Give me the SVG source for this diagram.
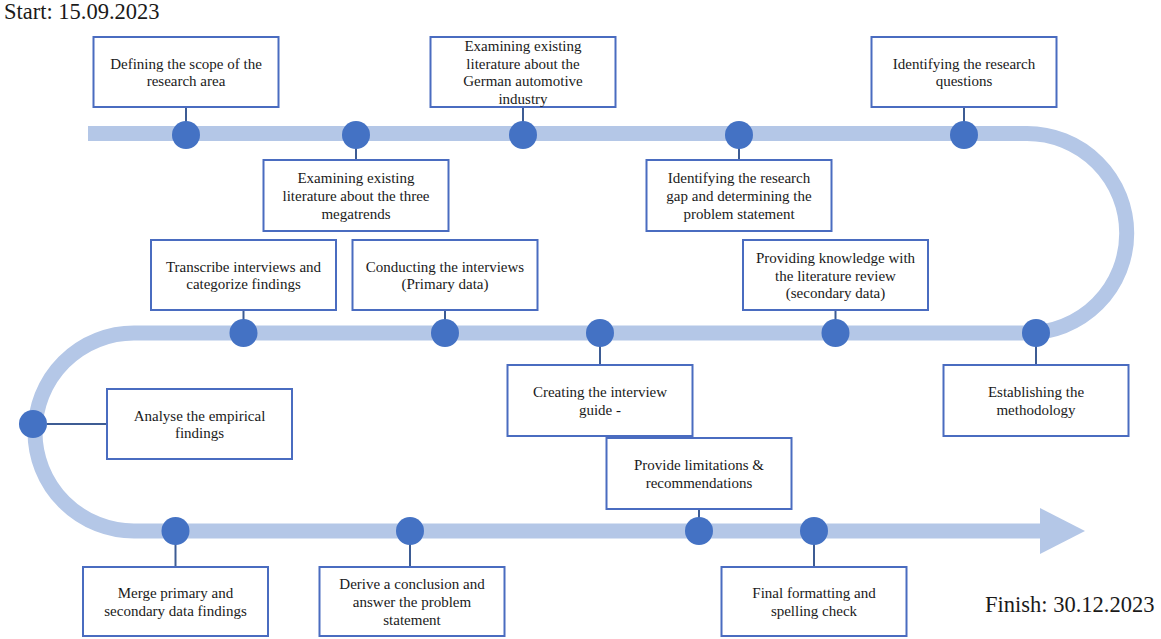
<svg xmlns="http://www.w3.org/2000/svg" width="1161" height="639" viewBox="0 0 1161 639">
<style>
.band{fill:none;stroke:#B4C7E7;stroke-width:15}
.dot{fill:#4472C4}
.box{fill:#fff;stroke:#4A6CC0;stroke-width:2}
.lk{stroke:#3D5C94;stroke-width:2;fill:none}
text,tspan{font-family:"Liberation Serif","Times New Roman",serif;fill:#1a1a1a}
.t{font-size:15px;text-anchor:middle}
.big{font-size:22.5px}
</style>
<rect width="1161" height="639" fill="#fff"/>
<text class="big" x="4" y="19">Start: 15.09.2023</text>
<text class="big" x="985" y="612">Finish: 30.12.2023</text>
<g id="track">
<path class="band" d="M88,133.5 H1027 A99.75,99.75 0 0 1 1027,333 H134 A99,99 0 0 0 134,531 H1041"/>
<polygon points="1040,508 1085,531 1040,554" fill="#B4C7E7"/>
</g>
<g id="connectors">
<line class="lk" x1="186" y1="107" x2="186" y2="122"/>
<line class="lk" x1="356" y1="148" x2="356" y2="160"/>
<line class="lk" x1="523" y1="107" x2="523" y2="122"/>
<line class="lk" x1="739" y1="148" x2="739" y2="160"/>
<line class="lk" x1="964" y1="107" x2="964" y2="122"/>
<line class="lk" x1="243.5" y1="310" x2="243.5" y2="320"/>
<line class="lk" x1="445" y1="310" x2="445" y2="320"/>
<line class="lk" x1="600" y1="346" x2="600" y2="365"/>
<line class="lk" x1="835.5" y1="310" x2="835.5" y2="320"/>
<line class="lk" x1="1036" y1="346" x2="1036" y2="365"/>
<line class="lk" x1="47" y1="424" x2="107" y2="424"/>
<line class="lk" x1="699" y1="509" x2="699" y2="518"/>
<line class="lk" x1="175.5" y1="544" x2="175.5" y2="567"/>
<line class="lk" x1="410" y1="544" x2="410" y2="567"/>
<line class="lk" x1="814" y1="544" x2="814" y2="567"/>
</g>
<g id="dots">
<circle class="dot" cx="186" cy="135" r="14"/>
<circle class="dot" cx="356" cy="135" r="14"/>
<circle class="dot" cx="523" cy="135" r="14"/>
<circle class="dot" cx="739" cy="135" r="14"/>
<circle class="dot" cx="964" cy="135" r="14"/>
<circle class="dot" cx="243.5" cy="333" r="14"/>
<circle class="dot" cx="445" cy="333" r="14"/>
<circle class="dot" cx="600" cy="333" r="14"/>
<circle class="dot" cx="835.5" cy="333" r="14"/>
<circle class="dot" cx="1036" cy="333" r="14"/>
<circle class="dot" cx="33" cy="424" r="14"/>
<circle class="dot" cx="175.5" cy="531" r="14"/>
<circle class="dot" cx="410" cy="531" r="14"/>
<circle class="dot" cx="699" cy="531" r="14"/>
<circle class="dot" cx="814" cy="531" r="14"/>
</g>
<g id="n1"><rect class="box" x="93.5" y="37" width="185" height="70"/>
<text class="t"><tspan x="186" y="68.6">Defining the scope of the</tspan><tspan x="186" y="86.4">research area</tspan></text></g>
<g id="n2"><rect class="box" x="263.5" y="160" width="185" height="71"/>
<text class="t"><tspan x="356" y="183.2">Examining existing</tspan><tspan x="356" y="201">literature about the three</tspan><tspan x="356" y="218.8">megatrends</tspan></text></g>
<g id="n3"><rect class="box" x="430.5" y="37" width="185" height="70"/>
<text class="t"><tspan x="523" y="50.8">Examining existing</tspan><tspan x="523" y="68.6">literature about the</tspan><tspan x="523" y="86.4">German automotive</tspan><tspan x="523" y="104.2">industry</tspan></text></g>
<g id="n4"><rect class="box" x="646.5" y="160" width="185" height="71"/>
<text class="t"><tspan x="739" y="183.2">Identifying the research</tspan><tspan x="739" y="201">gap and determining the</tspan><tspan x="739" y="218.8">problem statement</tspan></text></g>
<g id="n5"><rect class="box" x="871.5" y="37" width="185" height="70"/>
<text class="t"><tspan x="964" y="68.6">Identifying the research</tspan><tspan x="964" y="86.4">questions</tspan></text></g>
<g id="n6"><rect class="box" x="151" y="240" width="185" height="70"/>
<text class="t"><tspan x="243.5" y="271.6">Transcribe interviews and</tspan><tspan x="243.5" y="289.4">categorize findings</tspan></text></g>
<g id="n7"><rect class="box" x="352.5" y="240" width="185" height="70"/>
<text class="t"><tspan x="445" y="271.6">Conducting the interviews</tspan><tspan x="445" y="289.4">(Primary data)</tspan></text></g>
<g id="n8"><rect class="box" x="743" y="240" width="185" height="70"/>
<text class="t"><tspan x="835.5" y="262.7">Providing knowledge with</tspan><tspan x="835.5" y="280.5">the literature review</tspan><tspan x="835.5" y="298.3">(secondary data)</tspan></text></g>
<g id="n9"><rect class="box" x="507.5" y="365" width="185" height="71"/>
<text class="t"><tspan x="600" y="397.1">Creating the interview</tspan><tspan x="600" y="414.9">guide -</tspan></text></g>
<g id="n10"><rect class="box" x="943.5" y="365" width="185" height="71"/>
<text class="t"><tspan x="1036" y="397.1">Establishing the</tspan><tspan x="1036" y="414.9">methodology</tspan></text></g>
<g id="n11"><rect class="box" x="107" y="389" width="185" height="70"/>
<text class="t"><tspan x="199.5" y="420.6">Analyse the empirical</tspan><tspan x="199.5" y="438.4">findings</tspan></text></g>
<g id="n12"><rect class="box" x="606.5" y="438" width="185" height="71"/>
<text class="t"><tspan x="699" y="470.1">Provide limitations &amp;</tspan><tspan x="699" y="487.9">recommendations</tspan></text></g>
<g id="n13"><rect class="box" x="83" y="567" width="185" height="69"/>
<text class="t"><tspan x="175.5" y="598.1">Merge primary and</tspan><tspan x="175.5" y="615.9">secondary data findings</tspan></text></g>
<g id="n14"><rect class="box" x="319.5" y="567" width="185" height="69"/>
<text class="t"><tspan x="412" y="589.2">Derive a conclusion and</tspan><tspan x="412" y="607">answer the problem</tspan><tspan x="412" y="624.8">statement</tspan></text></g>
<g id="n15"><rect class="box" x="721.5" y="567" width="185" height="69"/>
<text class="t"><tspan x="814" y="598.1">Final formatting and</tspan><tspan x="814" y="615.9">spelling check</tspan></text></g>
</svg>
